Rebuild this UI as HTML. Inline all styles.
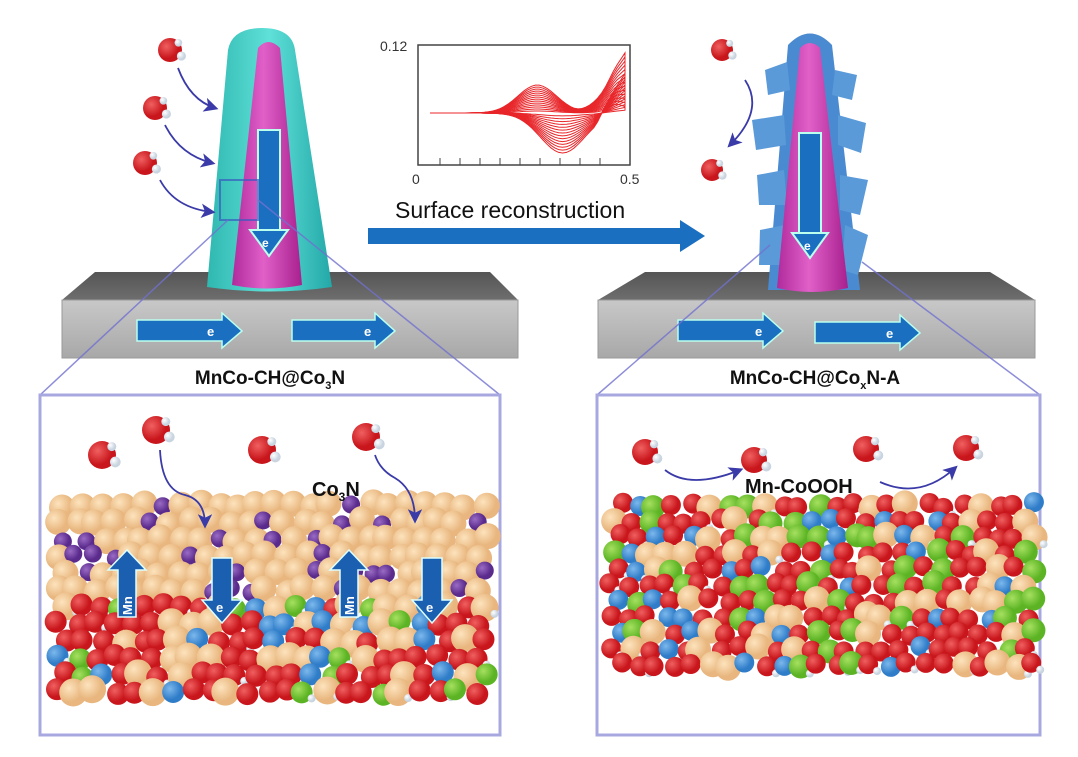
<!DOCTYPE html>
<html><head><meta charset="utf-8"><style>
html,body{margin:0;padding:0;background:#fff;width:1078px;height:757px;overflow:hidden}
svg{display:block}
text{font-family:"Liberation Sans",sans-serif}
</style></head><body>
<svg id="s" width="1078" height="757" viewBox="0 0 1078 757" xmlns="http://www.w3.org/2000/svg">
<defs>
<radialGradient id="gr" cx="35%" cy="35%"><stop offset="0" stop-color="#f06060"/><stop offset="1" stop-color="#c8161c"/></radialGradient>
<radialGradient id="gt" cx="35%" cy="35%"><stop offset="0" stop-color="#fde3bd"/><stop offset="1" stop-color="#e8b67e"/></radialGradient>
<radialGradient id="gp" cx="35%" cy="35%"><stop offset="0" stop-color="#9a6cc4"/><stop offset="1" stop-color="#5a2a8c"/></radialGradient>
<radialGradient id="gg" cx="35%" cy="35%"><stop offset="0" stop-color="#a6e060"/><stop offset="1" stop-color="#5cb424"/></radialGradient>
<radialGradient id="gb" cx="35%" cy="35%"><stop offset="0" stop-color="#7cb8ec"/><stop offset="1" stop-color="#2f7cc8"/></radialGradient>
<radialGradient id="gw" cx="35%" cy="35%"><stop offset="0" stop-color="#fff"/><stop offset="1" stop-color="#c8d4e0"/></radialGradient>
<linearGradient id="slab" x1="0" y1="0" x2="0" y2="1"><stop offset="0" stop-color="#c8c8c8"/><stop offset="1" stop-color="#a8a8a8"/></linearGradient>
<linearGradient id="top" x1="0" y1="0" x2="0" y2="1"><stop offset="0" stop-color="#555"/><stop offset="1" stop-color="#6e6e6e"/></linearGradient>
<linearGradient id="teal" x1="0" y1="0" x2="1" y2="0"><stop offset="0" stop-color="#2fb8b0"/><stop offset=".5" stop-color="#5fe0d8"/><stop offset="1" stop-color="#23a8a8"/></linearGradient>
<linearGradient id="mag" x1="0" y1="0" x2="1" y2="0"><stop offset="0" stop-color="#b02a9c"/><stop offset=".45" stop-color="#e060c8"/><stop offset="1" stop-color="#a8208e"/></linearGradient>
<marker id="ah" markerWidth="8" markerHeight="8" refX="6" refY="4" orient="auto"><path d="M0,0 L8,4 L0,8 L2,4z" fill="#3a3aa8"/></marker>
</defs>

<polygon points="95,272 490,272 518,300 62,300" fill="url(#top)"/>
<rect x="62" y="300" width="456" height="58" fill="url(#slab)" stroke="#999"/>
<polygon points="645,272 990,272 1035,300 598,300" fill="url(#top)"/>
<rect x="598" y="300" width="437" height="58" fill="url(#slab)" stroke="#999"/>

<path d="M207,287 L228,50 Q232,28 262,28 Q292,28 295,50 L332,287 Q270,296 207,287z" fill="url(#teal)"/>
<path d="M232,285 L258,48 Q268,36 280,48 L302,285 Q267,292 232,285z" fill="url(#mag)"/>
<rect x="258" y="130" width="22" height="100" fill="#1a6fc0" stroke="#bfe" stroke-width="2"/>
<polygon points="250,230 288,230 269,256" fill="#1a6fc0" stroke="#bfe" stroke-width="2"/>
<text x="262" y="247" font-size="12" fill="#fff" font-weight="bold">e</text>
<rect x="220" y="180" width="38" height="40" fill="none" stroke="#3a5ac0" stroke-width="2" opacity=".7"/>

<path d="M768,290 L788,45 Q810,22 832,45 L860,290z" fill="#4a8ad0"/>
<g fill="#5b9ad8">
<path d="M765,70 l22,-8 l3,28 l-22,5z"/><path d="M835,70 l22,5 l-5,25 l-20,-5z"/>
<path d="M752,120 l32,-5 l2,30 l-30,5z"/><path d="M838,115 l28,8 l-5,30 l-23,-8z"/>
<path d="M757,175 l27,-5 l3,35 l-28,0z"/><path d="M840,175 l28,5 l-8,35 l-20,-5z"/>
<path d="M760,230 l25,-5 l0,40 l-26,0z"/><path d="M845,225 l23,10 l-10,40 l-16,-5z"/>
</g>
<path d="M777,288 L800,48 Q810,38 820,48 L848,288 Q812,296 777,288z" fill="url(#mag)"/>
<rect x="799" y="133" width="22" height="100" fill="#1a6fc0" stroke="#bfe" stroke-width="2"/>
<polygon points="792,233 828,233 810,258" fill="#1a6fc0" stroke="#bfe" stroke-width="2"/>
<text x="804" y="250" font-size="12" fill="#fff" font-weight="bold">e</text>

<g fill="#1a6fc0" stroke="#bfe" stroke-width="1.5">
<polygon points="137,320 222,320 222,313 242,331 222,348 222,341 137,341"/>
<polygon points="292,320 375,320 375,313 395,331 375,348 375,341 292,341"/>
<polygon points="678,320 763,320 763,313 783,331 763,348 763,341 678,341"/>
<polygon points="815,322 900,322 900,315 920,333 900,350 900,343 815,343"/>
</g>
<g fill="#fff" font-size="13" font-weight="bold"><text x="207" y="336">e</text><text x="364" y="336">e</text><text x="755" y="336">e</text><text x="886" y="338">e</text></g>

<text x="270" y="384" font-size="19" font-weight="bold" text-anchor="middle" fill="#111">MnCo-CH@Co<tspan font-size="11" dy="5">3</tspan><tspan dy="-5">N</tspan></text>
<text x="815" y="384" font-size="19" font-weight="bold" text-anchor="middle" fill="#111">MnCo-CH@Co<tspan font-size="11" dy="5">x</tspan><tspan dy="-5">N-A</tspan></text>

<g stroke="#7070d0" stroke-width="1.5" fill="none" opacity=".8">
<line x1="228" y1="220" x2="40" y2="395"/><line x1="258" y1="200" x2="500" y2="395"/>
<line x1="770" y1="245" x2="597" y2="395"/><line x1="862" y1="262" x2="1040" y2="395"/>
</g>
<rect x="40" y="395" width="460" height="340" fill="#fff" fill-opacity=".6" stroke="#a8a8e0" stroke-width="3"/>
<rect x="597" y="395" width="443" height="340" fill="#fff" fill-opacity=".6" stroke="#a8a8e0" stroke-width="3"/>

<rect x="418" y="45" width="212" height="120" fill="#fff" stroke="#444" stroke-width="1.5"/>
<g stroke="#444" stroke-width="1">
<line x1="440" y1="158" x2="440" y2="165"/><line x1="460" y1="158" x2="460" y2="165"/><line x1="480" y1="158" x2="480" y2="165"/><line x1="500" y1="158" x2="500" y2="165"/><line x1="520" y1="158" x2="520" y2="165"/><line x1="540" y1="158" x2="540" y2="165"/><line x1="560" y1="158" x2="560" y2="165"/><line x1="580" y1="158" x2="580" y2="165"/><line x1="600" y1="158" x2="600" y2="165"/>
</g>
<g font-size="14" fill="#333"><text x="380" y="51">0.12</text><text x="412" y="184">0</text><text x="620" y="184">0.5</text></g>
<g id="cv" fill="none" stroke="#e8262a" stroke-width="1"></g>

<text x="395" y="218" font-size="23" fill="#111">Surface reconstruction</text>
<polygon points="368,228 680,228 680,220 705,236 680,252 680,244 368,244" fill="#1a6fc0"/>

<g id="atoms"></g>
<g id="waters"></g>

<g stroke="#3a3aa8" stroke-width="1.8" fill="none" marker-end="url(#ah)">
<path d="M178,68 Q190,100 215,108"/><path d="M165,125 Q180,155 212,163"/><path d="M160,180 Q175,208 212,212"/>
<path d="M745,80 Q765,110 730,145"/>
<path d="M160,450 Q162,490 185,495 Q205,500 205,525"/>
<path d="M375,455 Q380,470 395,478 Q415,490 415,520"/>
<path d="M665,470 Q690,490 740,470"/>
<path d="M880,482 Q920,500 955,468"/>
</g>

<text x="312" y="496" font-size="20" font-weight="bold" fill="#111">Co<tspan font-size="12" dy="5">3</tspan><tspan dy="-5">N</tspan></text>
<text x="745" y="493" font-size="20" font-weight="bold" fill="#111">Mn-CoOOH</text>
<g id="bigarrows"></g>
</svg>
<script>
var ns="http://www.w3.org/2000/svg";
var seed=7;function r(){seed=(seed*16807)%2147483647;return seed/2147483647;}
function c(g,x,y,rad,f){var e=document.createElementNS(ns,"circle");e.setAttribute("cx",x);e.setAttribute("cy",y);e.setAttribute("r",rad);e.setAttribute("fill",f);g.appendChild(e);}
function ga(t,m,w){return Math.exp(-Math.pow((t-m)/w,2));}
var cv=document.getElementById("cv");
for(var k=0;k<14;k++){var s=(k+1)/14;var d="";
for(var i=0;i<=50;i++){var t=i/50;var x=430+t*195;var y=113-s*(28*ga(t,0.55,0.14)+58*Math.max(0,t-0.72)/0.28*Math.max(0,t-0.72)/0.28)-6*ga(t,0.95,0.05);d+=(i?"L":"M")+x.toFixed(1)+","+y.toFixed(1)+" ";}
for(var i=50;i>=0;i--){var t=i/50;var x=430+t*195;var y=113+s*40*ga(t,0.68,0.16)-(t>0.85?s*(t-0.85)/0.15*40:0);d+="L"+x.toFixed(1)+","+y.toFixed(1)+" ";}
var p=document.createElementNS(ns,"path");p.setAttribute("d",d);cv.appendChild(p);}
var A=document.getElementById("atoms");
for(var y=505;y<=700;y+=17){for(var x=58;x<=490;x+=19){var xx=x+(r()-0.5)*8+((y/17|0)%2)*8,yy=y+(r()-0.5)*6;var f,rad;
if(y<605){f=r()<0.22?"url(#gp)":"url(#gt)";rad=f=="url(#gp)"?9:13;}else{var q=r();f=q<0.45?"url(#gr)":q<0.7?"url(#gt)":q<0.85?"url(#gb)":q<0.93?"url(#gg)":"url(#gr)";rad=f=="url(#gt)"?14:11;}
c(A,xx,yy,rad,f);if(y>=605&&r()<0.2)c(A,xx+10,yy+6,4,"url(#gw)");}}
for(var y=505;y<=680;y+=16){for(var x=612;x<=1028;x+=18){var xx=x+(r()-0.5)*8+((y/16|0)%2)*8,yy=y+(r()-0.5)*6;var q=r();var f=q<0.5?"url(#gr)":q<0.72?"url(#gt)":q<0.86?"url(#gg)":"url(#gb)";var rad=f=="url(#gt)"?13:f=="url(#gg)"?12:10;
c(A,xx,yy,rad,f);if(r()<0.25)c(A,xx+9,yy+7,4,"url(#gw)");}}
var W=document.getElementById("waters");
[[170,50,12],[155,108,12],[145,163,12],[722,50,11],[712,170,11],[102,455,14],[156,430,14],[262,450,14],[366,437,14],[645,452,13],[754,460,13],[866,449,13],[966,448,13]].forEach(function(w){c(W,w[0],w[1],w[2],"url(#gr)");c(W,w[0]+w[2]*0.95,w[1]+w[2]*0.5,w[2]*0.38,"url(#gw)");c(W,w[0]+w[2]*0.7,w[1]-w[2]*0.6,w[2]*0.32,"url(#gw)");});
var B=document.getElementById("bigarrows");
function poly(pts){var e=document.createElementNS(ns,"polygon");e.setAttribute("points",pts);e.setAttribute("fill","#1a5fb0");e.setAttribute("stroke","#dff");e.setAttribute("stroke-width","1.5");B.appendChild(e);}
function txt(x,y,s,rot){var e=document.createElementNS(ns,"text");e.setAttribute("x",x);e.setAttribute("y",y);e.setAttribute("fill","#fff");e.setAttribute("font-size","13");e.setAttribute("font-weight","bold");if(rot)e.setAttribute("transform","rotate(-90 "+x+" "+y+")");e.textContent=s;B.appendChild(e);}
poly("118,617 118,570 108,570 127,550 146,570 136,570 136,617");txt(132,615,"Mn",1);
poly("340,617 340,570 330,570 349,550 368,570 358,570 358,617");txt(354,615,"Mn",1);
poly("212,558 232,558 232,600 242,600 222,623 202,600 212,600");txt(216,612,"e");
poly("422,558 442,558 442,600 452,600 432,623 412,600 422,600");txt(426,612,"e");
</script>
</body></html>
